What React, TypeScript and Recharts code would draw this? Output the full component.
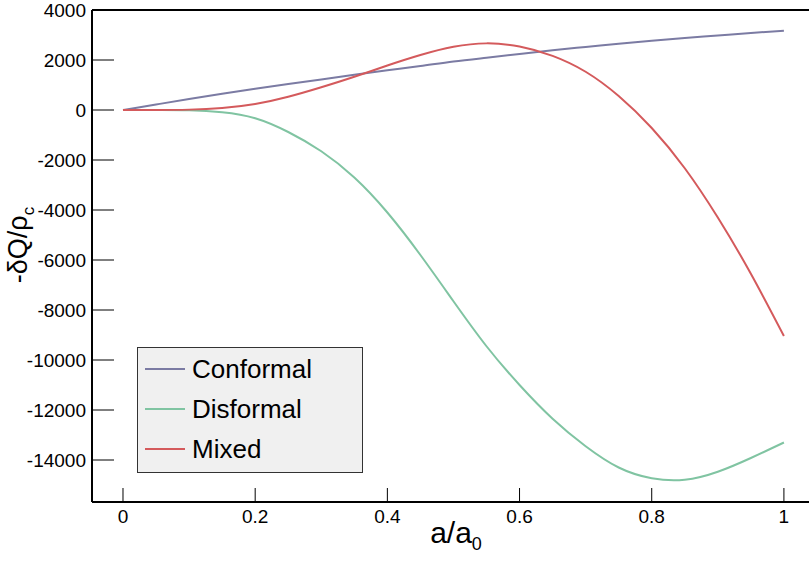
import React from "react";
import {
  Legend,
  Line,
  LineChart,
  ReferenceLine,
  XAxis,
  YAxis,
} from "recharts";

// a/a0 sample points (every 0.05)
const A_VALUES = [
  0, 0.05, 0.1, 0.15, 0.2, 0.25, 0.3, 0.35, 0.4, 0.45, 0.5, 0.55, 0.6, 0.65,
  0.7, 0.75, 0.8, 0.85, 0.9, 0.95, 1,
];

const CONFORMAL = [
  0, 220, 440, 650, 850, 1040, 1220, 1410, 1590, 1760, 1940, 2090, 2240, 2390,
  2520, 2650, 2770, 2880, 2980, 3080, 3170,
];

const DISFORMAL = [
  0, 0, -10, -90, -330, -880, -1650, -2700, -4100, -5800, -7650, -9450,
  -11000, -12350, -13450, -14300, -14730, -14790, -14470, -13920, -13300,
];

const MIXED = [
  0, 0, 15, 80, 240, 530, 910, 1330, 1780, 2200, 2530, 2665, 2540, 2165, 1530,
  560, -720, -2330, -4300, -6550, -9040,
];

const X_TICKS = [0, 0.2, 0.4, 0.6, 0.8, 1];
const Y_TICKS = [
  4000, 2000, 0, -2000, -4000, -6000, -8000, -10000, -12000, -14000,
];

const SERIES = [
  { key: "conformal", name: "Conformal", color: "#7b7ba3" },
  { key: "disformal", name: "Disformal", color: "#80c4a2" },
  { key: "mixed", name: "Mixed", color: "#d45a5c" },
];

const rows = A_VALUES.map((a, i) => ({
  a,
  conformal: CONFORMAL[i],
  disformal: DISFORMAL[i],
  mixed: MIXED[i],
}));

const FONT = "'Liberation Sans', Arial, Helvetica, sans-serif";

function XTick(props: any) {
  const { x, y, payload } = props;
  return (
    <g>
      <line x1={x} y1={y} x2={x} y2={y - 14} stroke="#000" strokeWidth={1} />
      <text x={x} y={y + 21} textAnchor="middle" fontSize={19} fill="#000">
        {String(payload.value)}
      </text>
    </g>
  );
}

function YTick(props: any) {
  const { x, y, payload } = props;
  return (
    <g>
      <line x1={x} y1={y} x2={x + 22} y2={y} stroke="#000" strokeWidth={1} />
      <text
        x={x - 6}
        y={y}
        dy="0.36em"
        textAnchor="end"
        fontSize={19}
        fill="#000"
      >
        {String(payload.value)}
      </text>
    </g>
  );
}

function LegendBox() {
  return (
    <div
      style={{
        boxSizing: "border-box",
        width: 226,
        height: 126,
        border: "1px solid #333",
        background: "#f0f0f0",
        paddingTop: 1,
        fontFamily: FONT,
      }}
    >
      {SERIES.map((s) => (
        <div
          key={s.key}
          style={{ display: "flex", alignItems: "center", height: 40 }}
        >
          <div
            style={{
              marginLeft: 7,
              width: 40,
              height: 2,
              background: s.color,
            }}
          />
          <span
            style={{
              marginLeft: 7,
              fontSize: 26,
              lineHeight: "40px",
              color: "#000",
            }}
          >
            {s.name}
          </span>
        </div>
      ))}
    </div>
  );
}

export default function App() {
  return (
    <div
      style={{
        position: "absolute",
        left: 0,
        top: 0,
        width: 809,
        height: 563,
        overflow: "hidden",
        background: "#fff",
        fontFamily: FONT,
      }}
    >
      <LineChart
        width={850}
        height={563}
        data={rows}
        margin={{ top: 10, right: 0, bottom: 0, left: 0 }}
        style={{ fontFamily: FONT }}
      >
        <XAxis
          dataKey="a"
          type="number"
          domain={[-0.0469, 1.1]}
          ticks={X_TICKS}
          interval={0}
          height={61}
          tickSize={0}
          tickMargin={0}
          tickLine={false}
          axisLine={{ stroke: "#000", strokeWidth: 2 }}
          tick={<XTick />}
          label={{
            content: () => (
              <text x={456} y={543} textAnchor="middle" fontSize={30} fill="#000">
                a/a
                <tspan fontSize={18} dy={7}>
                  0
                </tspan>
              </text>
            ),
          }}
        />
        <YAxis
          type="number"
          domain={[-15680, 4000]}
          ticks={Y_TICKS}
          interval={0}
          width={92}
          tickSize={0}
          tickMargin={0}
          tickLine={false}
          axisLine={{ stroke: "#000", strokeWidth: 2 }}
          tick={<YTick />}
          label={{
            content: () => (
              <text
                x={27}
                y={245}
                transform="rotate(-90, 27, 245)"
                textAnchor="middle"
                fontSize={27}
                fill="#000"
              >
                -δQ/ρ
                <tspan fontSize={17} dy={7}>
                  c
                </tspan>
              </text>
            ),
          }}
        />
        <ReferenceLine y={4000} stroke="#000" strokeWidth={2} />
        {SERIES.map((s) => (
          <Line
            key={s.key}
            dataKey={s.key}
            name={s.name}
            type="natural"
            stroke={s.color}
            strokeWidth={2}
            dot={false}
            isAnimationActive={false}
          />
        ))}
        <Legend
          layout="vertical"
          align="center"
          verticalAlign="middle"
          content={() => <LegendBox />}
          wrapperStyle={{ left: 137, top: 347, width: 226, height: 126 }}
        />
      </LineChart>
    </div>
  );
}
